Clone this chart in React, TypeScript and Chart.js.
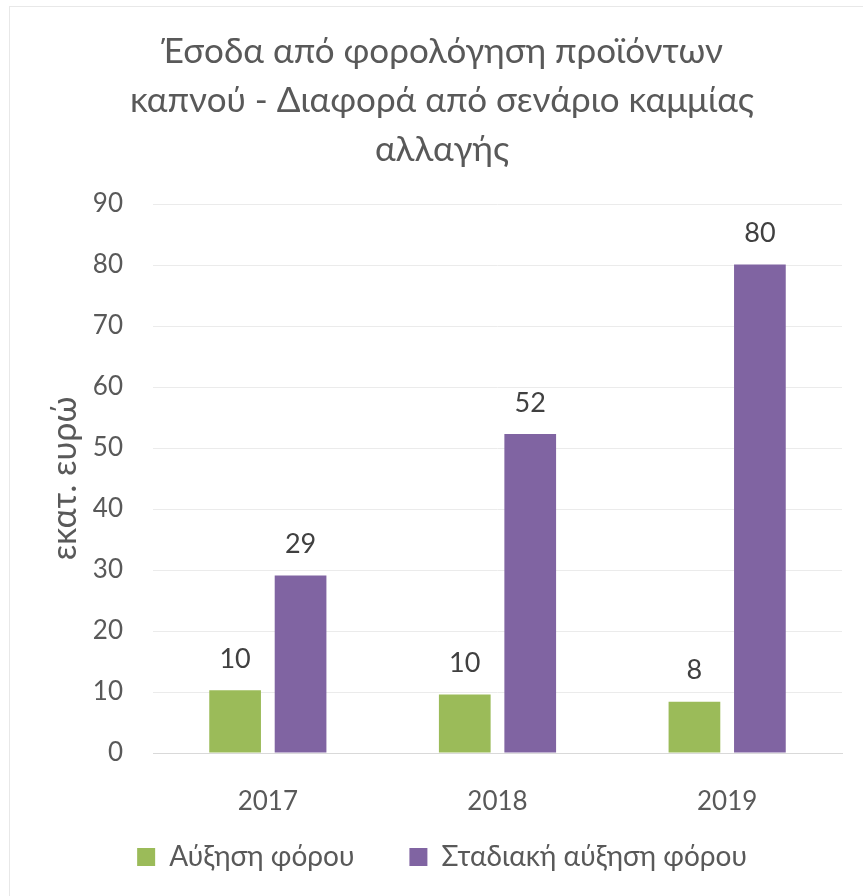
import { useEffect, useRef } from "react";
import { Chart, registerables } from "chart.js";

Chart.register(...registerables);

const categories = ["2017", "2018", "2019"];
const taxIncrease = [10.3, 9.6, 8.4];
const gradualIncrease = [29.1, 52.3, 80.1];
const seriesNames = ["Αύξηση φόρου", "Σταδιακή αύξηση φόρου"];
const titleLines = [
  "Έσοδα από φορολόγηση προϊόντων",
  "καπνού - Διαφορά από σενάριο καμμίας",
  "αλλαγής",
];
const yAxisTitle = "εκατ. ευρώ";
const yMin = 0;
const yMax = 90;
const yStep = 10;

const FONT = "Lato, 'Noto Sans', sans-serif";
const GREEN = "#9BBB59";
const PURPLE = "#8064A2";
const TEXT = "#595959";

const dataLabels = {
  id: "dataLabels",
  afterDatasetsDraw(chart: any) {
    const ctx = chart.ctx;
    ctx.save();
    ctx.font = `27px ${FONT}`;
    ctx.fillStyle = "#404040";
    ctx.textAlign = "center";
    ctx.textBaseline = "middle";
    chart.data.datasets.forEach((ds: any, i: number) => {
      const meta = chart.getDatasetMeta(i);
      meta.data.forEach((el: any, j: number) => {
        ctx.fillText(String(Math.round(ds.data[j])), el.x, el.y - 31);
      });
    });
    ctx.restore();
  },
};

// place the legend just below the category labels
const legendPlacer = {
  id: "legendPlacer",
  afterLayout(chart: any) {
    const lg = chart.legend;
    if (!lg) return;
    const h = lg.bottom - lg.top;
    lg.top = chart.chartArea.bottom + 35;
    lg.bottom = lg.top + h;
  },
};

export default function App() {
  const ref = useRef<HTMLCanvasElement>(null);
  useEffect(() => {
    if (!ref.current) return;
    const chart = new Chart(ref.current, {
      type: "bar",
      data: {
        labels: categories,
        datasets: [
          {
            label: seriesNames[0],
            data: taxIncrease,
            backgroundColor: GREEN,
            categoryPercentage: 0.57,
            barPercentage: 0.79,
          },
          {
            label: seriesNames[1],
            data: gradualIncrease,
            backgroundColor: PURPLE,
            categoryPercentage: 0.57,
            barPercentage: 0.79,
          },
        ],
      },
      options: {
        responsive: false,
        animation: false,
        layout: { padding: { left: 0, right: 0, top: 0, bottom: 0 } },
        plugins: {
          tooltip: { enabled: false },
          title: {
            display: true,
            text: titleLines,
            color: TEXT,
            font: { family: FONT, size: 35, weight: "normal", lineHeight: 1.4 },
            padding: { top: 27, bottom: 30 },
          },
          legend: {
            position: "bottom",
            labels: {
              color: TEXT,
              font: { family: FONT, size: 28 },
              boxWidth: 18,
              boxHeight: 18,
              padding: 55,
            },
          },
        },
        scales: {
          x: {
            grid: { display: false },
            border: { display: true, color: "#d9d9d9", width: 1 },
            ticks: { color: TEXT, font: { family: FONT, size: 26 }, padding: 25 },
            afterFit: (s: any) => {
              s.height = 60;
            },
          },
          y: {
            min: yMin,
            max: yMax,
            ticks: {
              stepSize: yStep,
              color: TEXT,
              font: { family: FONT, size: 26 },
              padding: 30,
            },
            grid: { color: "#ebebeb", drawTicks: false },
            border: { display: false },
            title: {
              display: true,
              text: yAxisTitle,
              color: TEXT,
              font: { family: FONT, size: 34 },
              padding: { top: 45, bottom: 0 },
            },
            afterFit: (s: any) => {
              s.width = 153;
            },
          },
          yRight: {
            type: "linear",
            position: "right",
            display: true,
            ticks: { display: false },
            grid: { display: false },
            border: { display: false },
            afterFit: (s: any) => {
              s.width = 42;
            },
          },
        },
      },
      plugins: [dataLabels, legendPlacer],
    } as any);
    return () => chart.destroy();
  }, []);

  return (
    <div
      style={{
        position: "absolute",
        left: 0,
        top: 0,
        width: 863,
        height: 896,
        overflow: "hidden",
        background: "#fff",
      }}
    >
      <canvas
        ref={ref}
        width={884}
        height={906}
        style={{ position: "absolute", left: 0, top: 0, width: 884, height: 906 }}
      />
      <div
        style={{
          position: "absolute",
          left: 9,
          top: 6,
          width: 900,
          height: 950,
          border: "1px solid #e8e8e8",
          pointerEvents: "none",
        }}
      />
    </div>
  );
}
